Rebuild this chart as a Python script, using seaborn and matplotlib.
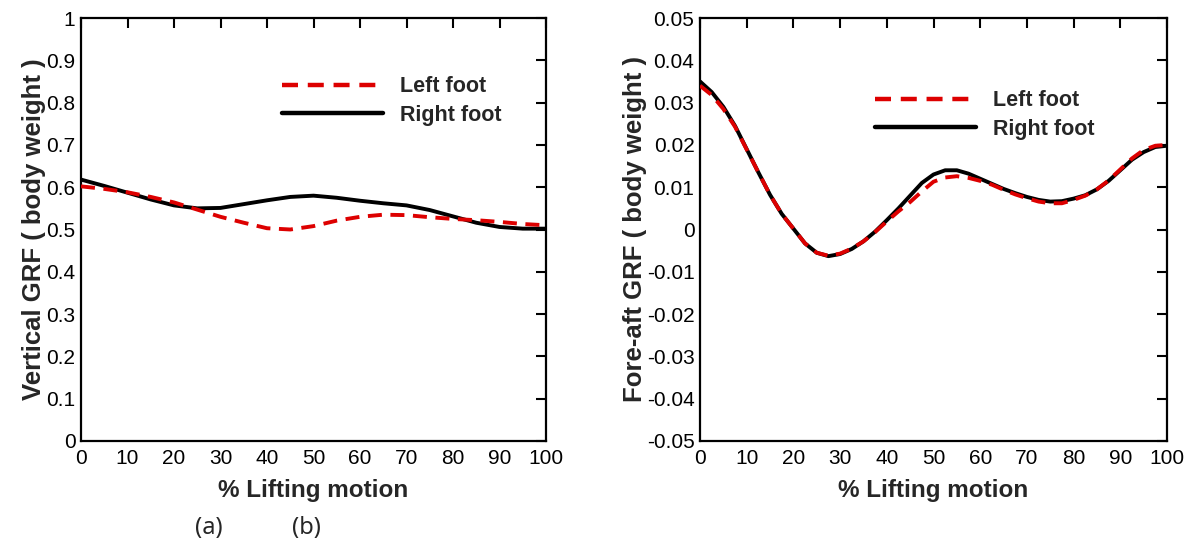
import matplotlib
matplotlib.use("Agg")
import matplotlib.pyplot as plt
import seaborn as sns
import pandas as pd

# ---- data ----
pct_v = [0, 5, 10, 15, 20, 25, 30, 35, 40, 45, 50, 55, 60, 65, 70, 75, 80, 85, 90, 95, 100]
vert_left = [0.602, 0.596, 0.588, 0.577, 0.564, 0.547, 0.530, 0.516, 0.503, 0.500, 0.508,
             0.521, 0.530, 0.535, 0.534, 0.529, 0.525, 0.522, 0.518, 0.513, 0.510]
vert_right = [0.618, 0.603, 0.587, 0.571, 0.557, 0.550, 0.551, 0.560, 0.569, 0.577, 0.580,
              0.575, 0.568, 0.562, 0.557, 0.546, 0.531, 0.516, 0.506, 0.502, 0.502]

pct_fa = [0, 2.5, 5, 7.5, 10, 12.5, 15, 17.5, 20, 22.5, 25, 27.5, 30, 32.5, 35, 37.5, 40,
          42.5, 45, 47.5, 50, 52.5, 55, 57.5, 60, 62.5, 65, 67.5, 70, 72.5, 75, 77.5, 80,
          82.5, 85, 87.5, 90, 92.5, 95, 97.5, 100]
fa_right = [0.0350, 0.0325, 0.0290, 0.0245, 0.0190, 0.0135, 0.0082, 0.0037, 0.0002, -0.0033,
            -0.0055, -0.0063, -0.0058, -0.0046, -0.0028, -0.0005, 0.0022, 0.0050, 0.0080,
            0.0110, 0.0130, 0.0140, 0.0140, 0.0132, 0.0120, 0.0108, 0.0096, 0.0086, 0.0077,
            0.0070, 0.0066, 0.0067, 0.0073, 0.0081, 0.0095, 0.0115, 0.0140, 0.0165, 0.0183,
            0.0195, 0.0198]
fa_left = [0.0340, 0.0318, 0.0285, 0.0243, 0.0189, 0.0135, 0.0082, 0.0037, 0.0002, -0.0033,
           -0.0055, -0.0062, -0.0057, -0.0045, -0.0028, -0.0006, 0.0019, 0.0043, 0.0065,
           0.0090, 0.0113, 0.0123, 0.0126, 0.0122, 0.0115, 0.0106, 0.0094, 0.0083, 0.0074,
           0.0066, 0.0062, 0.0062, 0.0070, 0.0080, 0.0095, 0.0116, 0.0142, 0.0168, 0.0188,
           0.0198, 0.0200]

series_names = ["Left foot", "Right foot"]
x_label = "% Lifting motion"
y_labels = ["Vertical GRF ( body weight )", "Fore-aft GRF ( body weight )"]
x_ticks = [0, 10, 20, 30, 40, 50, 60, 70, 80, 90, 100]
y_ticks_left = [0, 0.1, 0.2, 0.3, 0.4, 0.5, 0.6, 0.7, 0.8, 0.9, 1]
y_ticks_left_lbl = ["0", "0.1", "0.2", "0.3", "0.4", "0.5", "0.6", "0.7", "0.8", "0.9", "1"]
y_ticks_right = [-0.05, -0.04, -0.03, -0.02, -0.01, 0, 0.01, 0.02, 0.03, 0.04, 0.05]
y_ticks_right_lbl = ["-0.05", "-0.04", "-0.03", "-0.02", "-0.01", "0", "0.01", "0.02", "0.03", "0.04", "0.05"]
panel_tags = ["(a)", "(b)"]

sns.set_theme(style="white")
plt.rcParams["font.family"] = ["Liberation Sans", "DejaVu Sans"]

fig = plt.figure(figsize=(11.91, 5.44), dpi=100)
ax1 = fig.add_axes([81 / 1191, 1 - 441 / 544, 465 / 1191, 423 / 544])
ax2 = fig.add_axes([700 / 1191, 1 - 441 / 544, 467 / 1191, 423 / 544])

red = "#dd0000"

def draw(ax, x, left, right, yt, ytl, ylim, ylabel, leg_anchor):
    df = pd.DataFrame({"x": list(x) * 2, "y": list(left) + list(right),
                       "s": [series_names[0]] * len(x) + [series_names[1]] * len(x)})
    sns.lineplot(data=df[df.s == series_names[1]], x="x", y="y", ax=ax, color="black",
                 lw=2.8, label=series_names[1], zorder=2)
    sns.lineplot(data=df[df.s == series_names[0]], x="x", y="y", ax=ax, color=red,
                 lw=2.8, label=series_names[0], zorder=3)
    ax.lines[1].set_linestyle((0, (3.6, 2.2)))
    ax.set_xlim(0, 100)
    ax.set_ylim(*ylim)
    ax.set_xticks(x_ticks)
    ax.set_xticklabels([str(t) for t in x_ticks])
    ax.set_yticks(yt)
    ax.set_yticklabels(ytl)
    ax.tick_params(direction="in", length=7, width=1.5, top=True, right=True,
                   labelsize=15, colors="black", pad=4)
    ax.tick_params(axis="x", pad=6)
    for sp in ax.spines.values():
        sp.set_linewidth(1.6)
        sp.set_color("black")
    ax.set_xlabel(x_label, fontsize=17.5, fontweight="bold", labelpad=8)
    ax.set_ylabel(ylabel, fontsize=18.5, fontweight="bold", labelpad=0)
    handles, labels = ax.get_legend_handles_labels()
    order = [labels.index(series_names[0]), labels.index(series_names[1])]
    leg = ax.legend([handles[i] for i in order], [labels[i] for i in order],
                    loc="center left", bbox_to_anchor=leg_anchor, frameon=False,
                    handlelength=4.7, handletextpad=0.8, labelspacing=0.35,
                    borderpad=0, borderaxespad=0,
                    prop={"size": 15.5, "weight": "bold"})
    for h in leg.get_lines():
        h.set_linewidth(3.2)
    return leg

draw(ax1, pct_v, vert_left, vert_right, y_ticks_left, y_ticks_left_lbl, (0, 1),
     y_labels[0], ((282 - 81) / 465, (441 - 101) / 423))
draw(ax2, pct_fa, fa_left, fa_right, y_ticks_right, y_ticks_right_lbl, (-0.05, 0.05),
     y_labels[1], ((875 - 700) / 467, (441 - 115) / 423))

fig.text(209 / 1191, 1 - 528 / 544, panel_tags[0], fontsize=17, ha="center", va="center",
         family=["Noto Sans", "DejaVu Sans"])
fig.text(306 / 1191, 1 - 528 / 544, panel_tags[1], fontsize=17, ha="center", va="center",
         family=["Noto Sans", "DejaVu Sans"])

fig.savefig("out.png", dpi=100)
